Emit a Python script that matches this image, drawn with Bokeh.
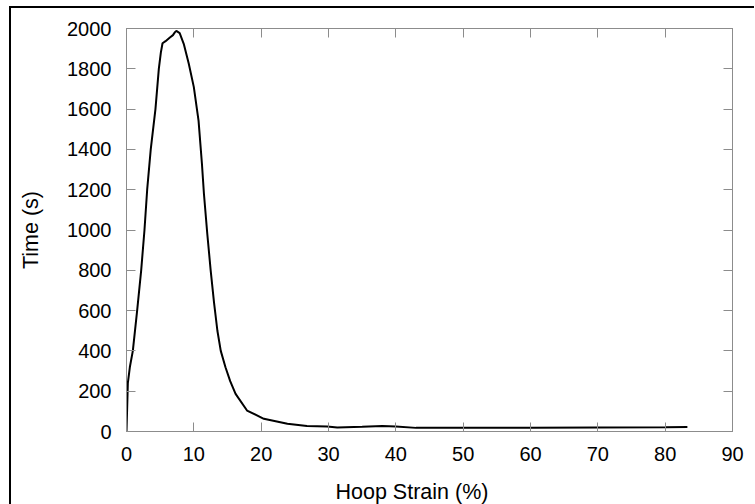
from bokeh.plotting import figure
from bokeh.models import LinearAxis, Title, FixedTicker, Range1d
from bokeh.embed import file_html
from bokeh.resources import INLINE

# Data
hoop_strain = [0, 0.1, 0.2, 0.5, 0.94, 1.58, 2.18, 2.67, 3.07, 3.6, 4.3, 4.8, 5.1, 5.35,
               5.8, 6.4, 6.9, 7.2, 7.4, 7.9, 8.5, 9.25, 10.0, 10.7, 11.2, 11.5, 12.0,
               12.5, 13.0, 13.5, 14.0, 14.7, 15.4, 16.2, 17.9, 20.4, 23.9, 26.8, 29.8,
               31.3, 35, 38, 40, 43, 50, 60, 70, 80, 83.3]
time_s = [0, 120, 240, 320, 400, 600, 800, 1000, 1200, 1400, 1600, 1800, 1880, 1927,
          1937, 1954, 1967, 1982, 1988, 1977, 1924, 1825, 1709, 1543, 1330, 1180, 980,
          800, 640, 500, 400, 319, 250, 187, 104, 63, 38, 27, 25,
          20, 23, 27, 25, 18, 18, 19, 20, 21, 22]

x_ticks = [0, 10, 20, 30, 40, 50, 60, 70, 80, 90]
y_ticks = [0, 200, 400, 600, 800, 1000, 1200, 1400, 1600, 1800, 2000]
x_title = "Hoop Strain (%)"
y_title = "Time (s)"

FONT = "Liberation Sans"
GRID_GRAY = "#8c8c8c"

p = figure(frame_width=606, frame_height=403,
           min_border_left=115, min_border_top=20, min_border_right=22, min_border_bottom=72,
           x_range=Range1d(0, 90), y_range=Range1d(0, 2000),
           output_backend="svg", toolbar_location=None,
           x_axis_location=None, y_axis_location=None)
p.styles = {"border-left": "2px solid black", "border-top": "2px solid black",
            "margin-left": "9px", "margin-top": "6px"}
p.xgrid.visible = False
p.ygrid.visible = False
p.outline_line_color = GRID_GRAY
p.outline_line_width = 1
p.background_fill_color = "white"
p.border_fill_color = "white"

def style_axis(ax, ticks, show_labels):
    ax.ticker = FixedTicker(ticks=ticks)
    ax.major_tick_in = 9
    ax.major_tick_out = 0
    ax.minor_tick_in = 0
    ax.minor_tick_out = 0
    ax.axis_line_color = GRID_GRAY
    ax.major_tick_line_color = GRID_GRAY
    ax.major_label_text_font = FONT
    ax.major_label_text_color = "black"
    if show_labels:
        ax.major_label_text_font_size = "20px"
    else:
        ax.major_label_text_font_size = "1px"
        ax.major_label_text_color = None
        ax.major_label_standoff = 0

bottom = LinearAxis()
style_axis(bottom, x_ticks, True)
bottom.major_label_standoff = 15
p.add_layout(bottom, "below")

left = LinearAxis(axis_label=y_title)
style_axis(left, y_ticks, True)
left.major_label_standoff = 15
left.axis_label_standoff = 21
left.axis_label_text_font = FONT
left.axis_label_text_font_style = "normal"
left.axis_label_text_font_size = "21.5px"
left.axis_label_text_color = "black"
p.add_layout(left, "left")

top = LinearAxis()
style_axis(top, x_ticks, False)
p.add_layout(top, "above")

right = LinearAxis()
style_axis(right, y_ticks, False)
p.add_layout(right, "right")

p.line(hoop_strain, time_s, line_color="black", line_width=2)

xlab = Title(text=x_title, align="left", offset=209, standoff=28,
             text_font=FONT, text_font_size="21.5px", text_font_style="normal",
             text_color="black")
p.add_layout(xlab, "below")

open("out.html", "w").write(file_html(p, INLINE))
